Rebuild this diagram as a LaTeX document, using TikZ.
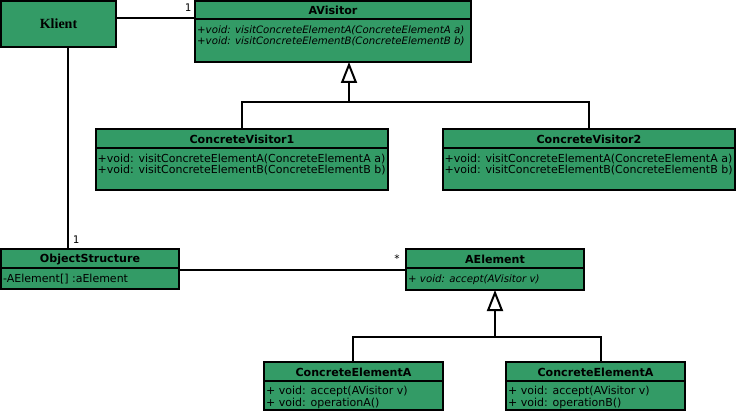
\documentclass[tikz,border=0pt]{standalone}
\usepackage{fontspec}
\usetikzlibrary{arrows.meta}
\newfontfamily\umlsans{DejaVu Sans}
\newfontfamily\umlmono{DejaVu Sans Mono}
\newfontfamily\umlserif{Liberation Serif}
\definecolor{umlgreen}{RGB}{51,155,102}
\tikzset{
  cls/.style={draw=black, fill=umlgreen, line width=2pt, anchor=north west,
              inner sep=0pt, outer sep=0pt},
  divider/.style={line width=2pt},
  hdr/.style={font=\umlsans\bfseries\fontsize{11.1}{13}\selectfont, anchor=center, inner sep=0pt},
  mem/.style={font=\umlsans\fontsize{11}{13}\selectfont, anchor=west, inner sep=0pt},
  imem/.style={font=\umlsans\itshape\fontsize{10.2}{12}\selectfont, anchor=west, inner sep=0pt},
  mult/.style={font=\umlmono\fontsize{10.5}{12}\selectfont, inner sep=0pt},
  link/.style={line width=2pt},
  inherit/.style={line width=2pt, -{Triangle[open, width=16pt, length=21pt]}},
}
\begin{document}
\begin{tikzpicture}[x=1pt, y=-1pt]
\useasboundingbox (0,0) rectangle (737,412);

% client
\node[cls, minimum width=115pt, minimum height=46pt] (klient) at (1,1) {};
\node[font=\umlserif\bfseries\fontsize{14}{16}\selectfont, inner sep=0pt] (klientname) at (klient.center) {Klient};

% visitor interface
\node[cls, minimum width=276pt, minimum height=61pt] (avis) at (195,1) {};
\draw[divider] (avis.west |- 0,19) -- (avis.east |- 0,19);
\node[hdr] (avisname) at (333,10.5) {AVisitor};
\node[imem] (avism1) at (197,30) {+void: visitConcreteElementA(ConcreteElementA a)};
\node[imem] (avism2) at (197,41.5) {+void: visitConcreteElementB(ConcreteElementB b)};

% concrete visitors
\node[cls, minimum width=292pt, minimum height=61pt] (cv1) at (96,129) {};
\draw[divider] (cv1.west |- 0,148) -- (cv1.east |- 0,148);
\node[hdr] (cv1name) at (cv1.center |- 0,139.5) {ConcreteVisitor1};
\node[mem] (cv1m1) at (97.5,159) {+void: visitConcreteElementA(ConcreteElementA a)};
\node[mem] (cv1m2) at (97.5,170.5) {+void: visitConcreteElementB(ConcreteElementB b)};

\node[cls, minimum width=292pt, minimum height=61pt] (cv2) at (443,129) {};
\draw[divider] (cv2.west |- 0,148) -- (cv2.east |- 0,148);
\node[hdr] (cv2name) at (cv2.center |- 0,139.5) {ConcreteVisitor2};
\node[mem] (cv2m1) at (444.5,159) {+void: visitConcreteElementA(ConcreteElementA a)};
\node[mem] (cv2m2) at (444.5,170.5) {+void: visitConcreteElementB(ConcreteElementB b)};

% object structure
\node[cls, minimum width=178pt, minimum height=40pt] (objs) at (1,249) {};
\draw[divider] (objs.west |- 0,268) -- (objs.east |- 0,268);
\node[hdr] (objsname) at (objs.center |- 0,259) {ObjectStructure};
\node[mem] (objsm1) at (3,279) {-AElement[] :aElement};

% element interface
\node[cls, minimum width=178pt, minimum height=41pt] (aelem) at (406,249) {};
\draw[divider] (aelem.west |- 0,268) -- (aelem.east |- 0,268);
\node[hdr] (aelemname) at (aelem.center |- 0,259) {AElement};
\node[imem] (aelemm1) at (408,280) {+ void: accept(AVisitor v)};

% concrete elements
\node[cls, minimum width=179pt, minimum height=48pt] (ce1) at (264,362) {};
\draw[divider] (ce1.west |- 0,381) -- (ce1.east |- 0,381);
\node[hdr] (ce1name) at (ce1.center |- 0,372.5) {ConcreteElementA};
\node[mem] (ce1m1) at (266,391.5) {+ void: accept(AVisitor v)};
\node[mem] (ce1m2) at (266,403) {+ void: operationA()};

\node[cls, minimum width=179pt, minimum height=48pt] (ce2) at (506,362) {};
\draw[divider] (ce2.west |- 0,381) -- (ce2.east |- 0,381);
\node[hdr] (ce2name) at (ce2.center |- 0,372.5) {ConcreteElementA};
\node[mem] (ce2m1) at (508,391.5) {+ void: accept(AVisitor v)};
\node[mem] (ce2m2) at (508,403) {+ void: operationB()};

% associations
\draw[link] (klient.east |- 0,18.5) -- (avis.west |- 0,18.5);
\node[mult] (m1) at (188,8) {1};
\draw[link] (klient.south -| 68,0) -- (objs.north -| 68,0);
\node[mult] (m2) at (76,239.5) {1};
\draw[link] (objs.east |- 0,269.5) -- (aelem.west |- 0,269.5);
\node[mult] (m3) at (397,259) {*};

% generalisations
\coordinate (vjoin) at (349,102.5);
\draw[link] (cv1.north) |- (vjoin) -| (cv2.north);
\draw[inherit] (vjoin) -- (avis.south -| vjoin);

\coordinate (ejoin) at (495,337);
\draw[link] (ce1.north -| 353,0) |- (ejoin) -| (ce2.north -| 601,0);
\draw[inherit] (ejoin) -- (aelem.south -| ejoin);
\end{tikzpicture}
\end{document}
